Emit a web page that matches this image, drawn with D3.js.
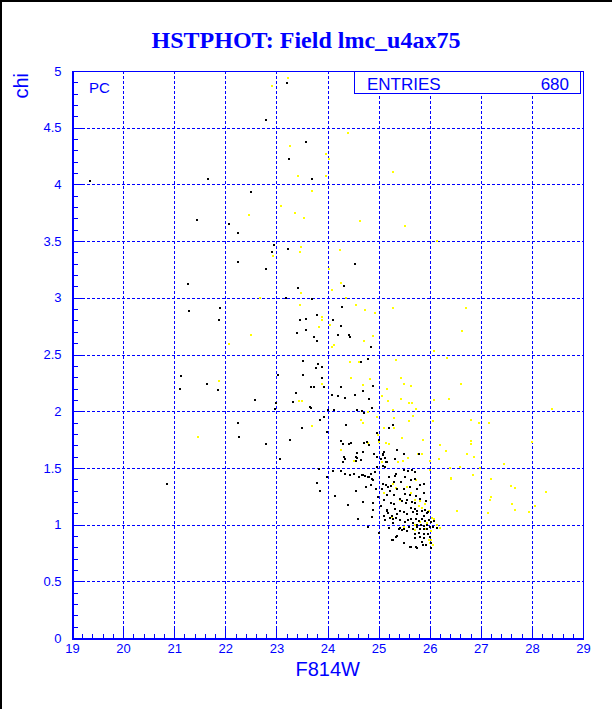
<!DOCTYPE html>
<html><head><meta charset="utf-8">
<script src="https://cdn.jsdelivr.net/npm/d3@7/dist/d3.min.js"></script>
<style>
html,body{margin:0;padding:0;background:#fff;}
svg{display:block;}
</style></head>
<body>
<svg id="c" width="612" height="709"></svg>
<script>
// ---- data ----
const title = "HSTPHOT: Field lmc_u4ax75";
const xLabel = "F814W";
const yLabel = "chi";
const xTicks = [19,20,21,22,23,24,25,26,27,28,29];
const yTicks = [0,0.5,1,1.5,2,2.5,3,3.5,4,4.5,5];
const entries = 680;

const blackPts = [
[19.35,4.03],[21.66,4.05],[21.45,3.69],[22.07,3.65],[22.25,3.57],[22.25,3.32],[21.27,3.12],[21.29,2.88],[21.9,2.91],[21.88,2.80],[21.13,2.31],[21.11,2.2],[21.64,2.24],[21.86,2.19],[22.25,1.9],[22.27,1.77],[20.86,1.36],
[23.2,4.89],[22.8,4.57],[23.58,4.37],[23.25,4.22],[23.7,4.05],[22.5,3.93],[22.95,3.47],[22.91,3.4],[23.23,3.43],
[22.8,3.25],[24.54,3.3],[24.32,3.1],[23.42,3.09],[23.19,3.0],[23.7,2.99],[24.28,2.92],[23.79,2.85],[23.58,2.81],[23.46,2.8],[24.1,2.8],[24.26,2.75],[23.58,2.72],[23.4,2.69],[24.2,2.67],[24.42,2.67],[23.74,2.65],[24.44,2.65],[23.79,2.62],[24.85,2.57],
[24.79,2.46],[23.52,2.44],[24.66,2.43],[23.81,2.42],[23.77,2.38],[23.89,2.39],[23.03,2.32],[23.52,2.32],[23.89,2.29],[24.89,2.22],[24.26,2.21],[23.68,2.21],[23.74,2.21],[23.93,2.21],[23.38,2.16],[24.69,2.18],[24.09,2.14],[24.2,2.13],[24.54,2.14],[24.34,2.12],[24.81,2.11],[22.58,2.1],[23.32,2.08],[22.99,2.07],[22.97,2.02],[23.66,2.04],[23.68,2.03],[24.01,2.01],[24.13,2.01],[24.58,2.01],[24.68,2.0],[24.87,2.03],[24.71,1.98],[23.93,1.95],[23.85,1.92],[24.36,1.88],[23.99,1.82],[24.97,1.81],[23.5,1.85],[22.8,1.71],[23.27,1.75],[24.26,1.74],[24.3,1.71],[24.46,1.72],[24.42,1.71],[24.71,1.72],[24.77,1.73],[24.81,1.7],[25.01,1.75],[24.58,1.63],[24.69,1.64],[24.91,1.62],[24.97,1.6],[23.07,1.58],[24.34,1.58],[24.58,1.59],
[24.11,1.47],[24.26,1.47],[24.34,1.45],[24.44,1.44],[24.52,1.45],[24.62,1.42],[24.69,1.44],[24.79,1.42],[24.85,1.45],[24.87,1.4],[23.99,1.42],[23.83,1.49],[24.3,1.55],[24.56,1.6],[24.56,1.56],[24.66,1.57],[24.32,1.6],[24.97,1.51],[24.93,1.46],
[25.28,1.88],[25.2,1.85],[25.1,1.64],[25.09,1.61],[25.36,1.66],[25.5,1.62],[25.12,1.59],[25.16,1.55],[25.09,1.52],
[25.11,1.64],[25.08,1.62],[25.04,1.58],[25.15,1.55],[25.32,1.58],[25.5,1.62],[25.79,1.62],[25.12,1.51],[25.34,1.45],[25.32,1.43],[25.49,1.48],[25.58,1.47],[25.66,1.48],[25.72,1.46],[25.2,1.42],[25.51,1.42],
[25.08,1.36],[25.15,1.35],[25.25,1.34],[25.19,1.33],[25.3,1.38],[25.43,1.38],[25.64,1.39],[25.72,1.4],[25.81,1.35],[25.89,1.36],[25.06,1.31],[25.36,1.31],[25.5,1.31],[25.62,1.33],[25.75,1.31],[25.23,1.3],
[25.3,1.26],[25.17,1.26],[25.51,1.27],[25.62,1.26],[25.88,1.28],[25.73,1.25],[25.41,1.23],[25.45,1.21],[25.56,1.22],[25.66,1.2],[25.72,1.19],[25.81,1.23],[25.93,1.21],[25.25,1.19],[25.3,1.18],[25.54,1.19],
[25.16,1.13],[25.33,1.14],[25.19,1.1],[25.42,1.12],[25.5,1.11],[25.64,1.15],[25.71,1.14],[25.76,1.12],[25.56,1.09],[25.84,1.12],[25.9,1.13],[25.94,1.1],[25.88,1.08],[25.36,1.09],[25.26,1.08],[25.75,1.09],[25.67,1.11],[25.97,1.11],
[25.29,1.05],[25.34,1.06],[25.12,1.04],[25.64,1.05],[25.73,1.05],[25.79,1.03],[25.84,1.05],[25.9,1.03],[25.98,1.04],[25.58,1.04],[25.51,1.02],[25.42,1.04],[25.68,1.01],[25.76,1.0],[25.83,1.0],[25.89,0.99],[25.94,1.0],[26.02,1.02],[26.09,1.03],
[25.2,0.97],[25.42,0.97],[25.5,0.96],[25.59,0.98],[25.68,0.96],[25.76,0.98],[25.81,0.96],[25.88,0.96],[25.94,0.96],[26.01,0.98],[26.07,0.98],[26.14,0.97],[25.71,0.92],[25.8,0.93],[25.88,0.92],[25.97,0.92],[25.55,0.94],[25.46,0.95],
[25.34,0.89],[25.29,0.86],[25.72,0.88],[25.81,0.89],[25.89,0.88],[26.01,0.89],[25.85,0.85],[25.92,0.82],[25.64,0.8],[25.76,0.79],[26.02,0.79],
[24.68,1.44],[24.73,1.43],[24.81,1.42],[24.89,1.39],[24.85,1.35],[24.75,1.33],[24.95,1.31],[24.99,1.24],[24.89,1.19],[24.89,1.13],[24.87,1.07],[25.05,1.16],[25.11,1.22],[25.16,1.12],[25.22,1.06],[25.11,1.08],[25.28,1.01],[25.26,0.86],[25.36,0.9],[25.61,0.8],[25.73,0.8],[25.4,0.96],[25.5,0.84],[25.87,0.82],[26.03,0.84],
[23.8,1.37],[23.85,1.3],[24.15,1.25],[24.4,1.17],[24.55,1.3],[24.7,1.2],[24.6,1.05],[24.8,0.98],[25.0,0.93]
];

const yellowPts = [
[22.07,2.59],[21.88,2.27],[21.47,1.77],
[23.23,4.94],[22.91,4.87],[24.4,4.45],[23.27,4.34],[23.97,4.27],[24.03,4.22],[23.42,4.07],[23.97,4.07],[23.7,3.94],[23.09,3.81],[22.46,3.73],[23.36,3.75],[23.54,3.70],[24.64,3.68],[23.48,3.45],[23.46,3.4],[22.93,3.37],[24.25,3.42],
[24.03,3.25],[24.26,3.13],[24.09,3.07],[23.48,3.04],[22.68,3.0],[24.36,3.0],[24.56,2.94],[23.46,2.94],[24.73,2.89],[24.93,2.87],[23.89,2.83],[23.89,2.8],[24.05,2.76],[23.83,2.74],[24.89,2.66],[24.71,2.62],[22.5,2.67],[24.13,2.58],[24.09,2.57],[24.44,2.43],[24.62,2.43],[24.46,2.29],[24.83,2.28],[23.89,2.24],[24.69,2.23],[23.44,2.09],[23.5,2.09],[24.79,1.99],[24.97,1.95],[24.66,1.92],[24.69,1.9],[24.99,1.79],[23.7,1.87],[24.79,1.72],[25.01,1.73],[24.26,1.66],[24.52,1.56],
[25.28,2.91],[26.71,2.91],[26.63,2.71],[26.08,2.53],[26.34,2.47],[25.34,2.45],[25.44,2.29],[25.5,2.24],[25.63,2.22],[25.16,2.2],[26.61,2.24],[25.07,2.13],[25.18,2.09],[25.44,2.11],[25.6,2.07],[25.65,2.07],[26.08,2.1],[26.38,2.11],[25.73,2.02],[25.28,2.01],[28.39,2.02],[25.3,1.94],[25.1,1.85],[25.3,1.85],[25.67,1.96],[25.6,1.91],[26.06,1.91],[26.81,1.92],[26.96,1.9],[27.16,1.9],[25.46,1.76],[25.87,1.75],[25.14,1.72],[26.2,1.7],[26.81,1.74],[26.81,1.71],[28.0,1.73],[25.77,1.62],[25.85,1.62],[26.32,1.65],[26.73,1.62],[26.87,1.6],[25.32,1.58],[25.58,1.59],[26.18,1.58],[26.01,1.56],[25.07,1.55],[26.59,1.51],[26.4,1.5],[27.45,1.53],[26.98,1.5],
[28.28,1.29],[27.67,1.32],[27.59,1.34],[27.18,1.22],[27.2,1.24],[27.61,1.18],[27.67,1.13],[28.06,1.16],[27.94,1.11],[27.14,1.1],[26.85,1.44],[27.2,1.4],[26.53,1.12],[26.42,1.4],[26.01,1.48],[26.2,0.97],[26.03,0.86],
[25.38,1.55],[25.47,1.56],[25.2,1.71],[26.84,1.44],[26.41,1.41],[26.54,1.12],[25.73,1.39],[25.64,1.28],[25.56,1.33],[25.28,1.36],[25.34,1.32],[25.72,1.22],[25.81,1.21],[25.84,1.15],[25.9,1.18],[25.8,1.16],[25.98,1.12],[26.05,1.06],[26.09,1.05],[26.15,1.0],[25.94,1.01],[25.81,1.02],[25.72,1.0],[25.49,0.98],[25.71,0.95],[25.9,0.96],[26.02,0.94],[25.98,0.86],[26.01,0.84],[26.06,0.82],[25.1,1.28],[25.26,1.07],[25.42,1.22],
[25.28,4.11],[25.52,3.63],[26.14,3.5]
];

// ---- layout ----
const svg = d3.select("#c");
const L = 72, R = 583, T = 71, B = 638;
const blue = "#0000ff";
const x = d3.scaleLinear().domain([19,29]).range([L,R]);
const y = d3.scaleLinear().domain([0,5]).range([B,T]);

// page border (left, top)
svg.append("rect").attr("x",0).attr("y",0).attr("width",612).attr("height",709).attr("fill","#fff");
svg.append("rect").attr("x",0).attr("y",0).attr("width",2).attr("height",709).attr("fill","#000");
svg.append("rect").attr("x",0).attr("y",0).attr("width",612).attr("height",2).attr("fill","#000");

// grid
const g = svg.append("g").attr("shape-rendering","crispEdges");
g.selectAll(".vg").data(xTicks.slice(1,-1)).join("line")
  .attr("x1",d=>Math.round(x(d))+0.5).attr("x2",d=>Math.round(x(d))+0.5)
  .attr("y1",T).attr("y2",B)
  .attr("stroke",blue).attr("stroke-width",1).attr("stroke-dasharray","3,2");
g.selectAll(".hg").data(yTicks.slice(1,-1)).join("line")
  .attr("y1",d=>Math.round(y(d))+0.5).attr("y2",d=>Math.round(y(d))+0.5)
  .attr("x1",L).attr("x2",R)
  .attr("stroke",blue).attr("stroke-width",1).attr("stroke-dasharray","3,2");

// points
const pts = svg.append("g").attr("shape-rendering","crispEdges");
pts.selectAll(".yp").data(yellowPts).join("rect")
  .attr("x",d=>Math.round(x(d[0]))-1).attr("y",d=>Math.round(y(d[1]))-1)
  .attr("width",2).attr("height",2).attr("fill","#ffff00");
pts.selectAll(".bp").data(blackPts).join("rect")
  .attr("x",d=>Math.round(x(d[0]))-1).attr("y",d=>Math.round(y(d[1]))-1)
  .attr("width",2).attr("height",2).attr("fill","#000");

// frame
svg.append("rect").attr("x",L+0.5).attr("y",T+0.5).attr("width",R-L).attr("height",B-T)
  .attr("fill","none").attr("stroke",blue).attr("stroke-width",1).attr("shape-rendering","crispEdges");

const font = "'Liberation Sans', Arial, Helvetica, sans-serif";

// y axis
const yMinor = d3.range(0,51).map(i=>i/10);
const yAxMinor = svg.append("g").attr("transform",`translate(${L+0.5},0)`)
  .call(d3.axisLeft(y).tickValues(yMinor).tickSize(-5).tickFormat(""));
const yAx = svg.append("g").attr("transform",`translate(${L+0.5},0)`)
  .call(d3.axisLeft(y).tickValues(yTicks).tickSize(-10).tickPadding(11).tickFormat(d3.format("")));
// x axis
const xMinor = d3.range(0,51).map(i=>19+i/5);
const xAxMinor = svg.append("g").attr("transform",`translate(0,${B+0.5})`)
  .call(d3.axisBottom(x).tickValues(xMinor).tickSize(-5).tickFormat(""));
const xAx = svg.append("g").attr("transform",`translate(0,${B+0.5})`)
  .call(d3.axisBottom(x).tickValues(xTicks).tickSize(-10).tickPadding(5).tickFormat(d3.format("d")));

[yAxMinor,yAx,xAxMinor,xAx].forEach(a=>{
  a.attr("shape-rendering","crispEdges");
  a.select(".domain").attr("stroke",blue);
  a.selectAll(".tick line").attr("stroke",blue);
  a.selectAll(".tick text").attr("fill",blue).style("font-family",font).style("font-size","13px");
});

// titles
svg.append("text").attr("x",306).attr("y",48).attr("text-anchor","middle")
  .style("font-family","'Liberation Serif','Times New Roman',serif").style("font-weight","bold")
  .style("font-size","24px").attr("fill",blue).text(title);
svg.append("text").attr("x",360).attr("y",676).attr("text-anchor","end")
  .style("font-family",font).style("font-size","20px").attr("fill",blue).text(xLabel);
svg.append("text").attr("transform","translate(28,73) rotate(-90)").attr("text-anchor","end")
  .style("font-family",font).style("font-size","20px").attr("fill",blue).text(yLabel);

// PC label
svg.append("text").attr("x",89).attr("y",93)
  .style("font-family",font).style("font-size","15px").attr("fill",blue).text("PC");

// stats box
svg.append("rect").attr("x",354.5).attr("y",T+0.5).attr("width",226).attr("height",22)
  .attr("fill","#fff").attr("stroke",blue).attr("stroke-width",1).attr("shape-rendering","crispEdges");
svg.append("text").attr("x",367).attr("y",90)
  .style("font-family",font).style("font-size","17px").attr("fill",blue).text("ENTRIES");
svg.append("text").attr("x",569).attr("y",90).attr("text-anchor","end")
  .style("font-family",font).style("font-size","17px").attr("fill",blue).text(String(entries));
</script>
</body></html>
